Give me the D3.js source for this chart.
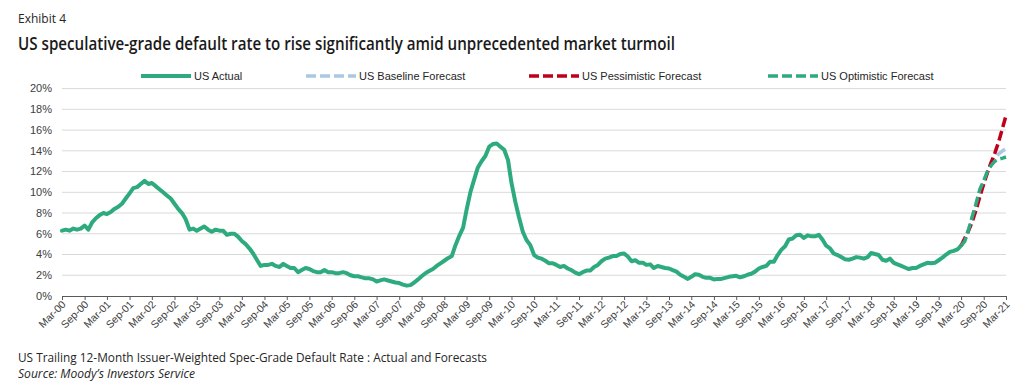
<!DOCTYPE html>
<html><head><meta charset="utf-8">
<script src="https://cdn.jsdelivr.net/npm/d3@7"></script>
<style>body{margin:0;background:#fff}svg{display:block}</style>
</head><body>
<svg id="chart" width="1031" height="390"></svg>
<script>
// ---------------- DATA ----------------
const actualStart = "Mar-00";   // first month of the actual series (monthly)
const actual = [
 6.3,6.4,6.3,6.5,6.4,6.5,6.8,6.4,7.1,7.5,7.8,8.0,          // Mar-00 .. Feb-01
 7.9,8.1,8.4,8.6,8.9,9.4,9.9,10.4,10.5,10.8,11.1,10.8,     // Mar-01 .. Feb-02
 10.9,10.6,10.3,10.0,9.7,9.4,8.9,8.4,8.0,7.4,6.4,6.5,      // Mar-02 .. Feb-03
 6.3,6.5,6.7,6.4,6.2,6.4,6.3,6.3,5.9,6.0,6.0,5.7,          // Mar-03 .. Feb-04
 5.3,5.0,4.6,4.1,3.5,2.9,3.0,3.0,3.1,2.9,2.8,3.1,          // Mar-04 .. Feb-05
 2.9,2.7,2.7,2.3,2.5,2.7,2.6,2.4,2.3,2.3,2.5,2.3,          // Mar-05 .. Feb-06
 2.3,2.2,2.2,2.3,2.2,2.0,1.9,1.9,1.8,1.7,1.7,1.6,          // Mar-06 .. Feb-07
 1.4,1.5,1.6,1.5,1.4,1.3,1.25,1.1,1.0,1.05,1.3,1.6,        // Mar-07 .. Feb-08
 1.9,2.2,2.4,2.6,2.9,3.15,3.4,3.65,3.85,4.9,5.8,6.6,       // Mar-08 .. Feb-09
 8.3,10.0,11.2,12.4,13.0,13.5,14.4,14.65,14.7,14.4,14.1,13.1, // Mar-09 .. Feb-10
 10.9,9.1,7.6,6.2,5.4,4.9,3.95,3.7,3.6,3.4,3.15,3.15,      // Mar-10 .. Feb-11
 3.0,2.8,2.9,2.65,2.5,2.25,2.1,2.3,2.45,2.45,2.8,3.0,      // Mar-11 .. Feb-12
 3.35,3.6,3.7,3.85,3.85,4.05,4.1,3.8,3.35,3.45,3.2,3.2,    // Mar-12 .. Feb-13
 3.0,3.05,2.7,2.9,2.8,2.7,2.65,2.5,2.35,2.05,1.85,1.65,    // Mar-13 .. Feb-14
 1.85,2.1,2.05,1.85,1.75,1.75,1.6,1.65,1.65,1.75,1.85,1.9, // Mar-14 .. Feb-15
 1.95,1.8,1.9,2.05,2.15,2.35,2.65,2.8,2.9,3.3,3.3,3.95,    // Mar-15 .. Feb-16
 4.45,4.8,5.45,5.55,5.85,5.9,5.6,5.85,5.75,5.75,5.9,5.4,   // Mar-16 .. Feb-17
 4.85,4.6,4.1,3.95,3.75,3.55,3.5,3.6,3.75,3.7,3.6,3.75,    // Mar-17 .. Feb-18
 4.15,4.05,3.95,3.5,3.4,3.6,3.2,3.05,2.9,2.75,2.6,2.7,     // Mar-18 .. Feb-19
 2.7,2.9,3.05,3.2,3.15,3.2,3.45,3.7,4.0,4.25,4.35,4.5,     // Mar-19 .. Feb-20
 4.85                                                      // Mar-20
];
const forecastStart = "Mar-20";  // forecasts are monthly, Mar-20 .. Mar-21
const baseline    = [4.85,5.4,6.4,7.7,8.9,10.2,11.1,12.0,12.8,13.3,13.7,14.0,14.2];
const pessimistic = [4.85,5.6,6.3,7.2,8.3,9.6,10.8,11.9,12.9,13.8,14.9,16.2,17.4];
const optimistic  = [4.85,5.3,6.4,7.7,8.9,10.3,11.1,12.0,12.6,13.0,13.2,13.3,13.4];

const tickLabels = ["Mar-00","Sep-00","Mar-01","Sep-01","Mar-02","Sep-02","Mar-03","Sep-03",
 "Mar-04","Sep-04","Mar-05","Sep-05","Mar-06","Sep-06","Mar-07","Sep-07","Mar-08","Sep-08",
 "Mar-09","Sep-09","Mar-10","Sep-10","Mar-11","Sep-11","Mar-12","Sep-12","Mar-13","Sep-13",
 "Mar-14","Sep-14","Mar-15","Sep-15","Mar-16","Sep-16","Mar-17","Sep-17","Mar-18","Sep-18",
 "Mar-19","Sep-19","Mar-20","Sep-20","Mar-21"];
const yTicks = [0,2,4,6,8,10,12,14,16,18,20];
const seriesNames = ["US Actual","US Baseline Forecast","US Pessimistic Forecast","US Optimistic Forecast"];

const exhibitText = "Exhibit 4";
const titleText = "US speculative-grade default rate to rise significantly amid unprecedented market turmoil";
const noteText = "US Trailing 12-Month Issuer-Weighted Spec-Grade Default Rate : Actual and Forecasts";
const sourceText = "Source: Moody\u2019s Investors Service";

// ---------------- CHART ----------------
const parse = d3.timeParse("%b-%y");
const fmt = d3.timeFormat("%b-%y");
const svg = d3.select("#chart");
const plot = {left: 62, right: 1006, top: 88.6, bottom: 296};

const x = d3.scaleTime()
  .domain([parse(tickLabels[0]), parse(tickLabels[tickLabels.length - 1])])
  .range([plot.left, plot.right]);
const y = d3.scaleLinear().domain([0, 20]).range([plot.bottom, plot.top]);

const toPoints = (start, vals) => vals.map((v, i) => ({date: d3.timeMonth.offset(parse(start), i), v}));

// gridlines
svg.append("g").selectAll("line")
  .data(yTicks.filter(d => d > 0))
  .join("line")
  .attr("x1", plot.left).attr("x2", plot.right)
  .attr("y1", d => y(d)).attr("y2", d => y(d))
  .attr("stroke", "#d9d9d9").attr("stroke-width", 1);

// y labels
svg.append("g").selectAll("text")
  .data(yTicks)
  .join("text")
  .attr("x", 52).attr("y", d => y(d)).attr("dy", "0.35em")
  .attr("text-anchor", "end")
  .style("font", "11px 'Liberation Sans', Arial, sans-serif")
  .attr("fill", "#404040")
  .text(d => d + "%");

// x axis
const xAxis = d3.axisBottom(x)
  .tickValues(tickLabels.map(parse))
  .tickFormat(fmt)
  .tickSize(4)
  .tickSizeOuter(0);
const gx = svg.append("g").attr("transform", `translate(0,${plot.bottom})`).call(xAxis);
gx.select(".domain").attr("stroke", "#595959").attr("stroke-width", 1);
gx.selectAll(".tick line").attr("stroke", "#595959");
gx.selectAll(".tick text")
  .attr("x", 0).attr("y", 0).attr("dy", 0)
  .attr("transform", "translate(4,9) rotate(-45)")
  .style("text-anchor", "end")
  .style("font", "10.5px 'Liberation Sans', Arial, sans-serif")
  .attr("fill", "#404040");

// lines
const line = d3.line().x(d => x(d.date)).y(d => y(d.v));
const green = "#2eab7e", blue = "#a9c8e4", red = "#c0001a";

svg.append("path").datum(toPoints(actualStart, actual))
  .attr("d", line).attr("fill", "none").attr("stroke", green)
  .attr("stroke-width", 4).attr("stroke-linejoin", "round").attr("stroke-linecap", "round");

const dash = "10,4";
[[baseline, blue], [pessimistic, red], [optimistic, green]].forEach(([vals, col]) => {
  svg.append("path").datum(toPoints(forecastStart, vals))
    .attr("d", line).attr("fill", "none").attr("stroke", col)
    .attr("stroke-width", 3.5).attr("stroke-dasharray", dash)
    .attr("stroke-linejoin", "round");
});

// legend
const legendItems = [
  {name: seriesNames[0], color: green, dash: null, x: 141},
  {name: seriesNames[1], color: blue, dash: dash, x: 306},
  {name: seriesNames[2], color: red, dash: dash, x: 529},
  {name: seriesNames[3], color: green, dash: dash, x: 768}
];
const lg = svg.append("g").selectAll("g").data(legendItems).join("g")
  .attr("transform", d => `translate(${d.x},76)`);
lg.append("line").attr("x1", 0).attr("x2", 50).attr("y1", 0).attr("y2", 0)
  .attr("stroke", d => d.color).attr("stroke-width", d => d.dash ? 3.5 : 4)
  .attr("stroke-dasharray", d => d.dash);
lg.append("text").attr("x", 53).attr("y", 0).attr("dy", "0.35em")
  .style("font", "11px 'Liberation Sans', Arial, sans-serif")
  .attr("fill", "#262626")
  .text(d => d.name);

// titles and notes
function addText(t, xPos, yPos, size, weight, style, width, color) {
  const el = svg.append("text").attr("x", xPos).attr("y", yPos)
    .style("font-family", "'Open Sans', 'Noto Sans', sans-serif")
    .style("font-size", size + "px").style("font-weight", weight).style("font-style", style)
    .attr("fill", color).text(t);
  if (width) el.attr("textLength", width).attr("lengthAdjust", "spacingAndGlyphs");
  return el;
}
addText(exhibitText, 18, 23, 12.5, 400, "normal", 48, "#262626");
addText(titleText, 18, 50, 17.5, 600, "normal", 657, "#1a1a1a");
addText(noteText, 18, 361.5, 12, 400, "normal", 469, "#262626");
addText(sourceText, 18, 377.5, 12, 400, "italic", 177, "#262626");
</script>
</body></html>
